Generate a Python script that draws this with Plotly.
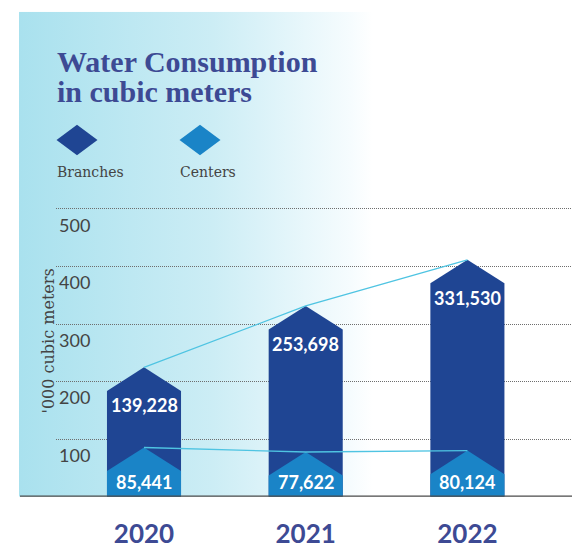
import base64

import plotly.graph_objects as go

W, H = 572, 549

years = ["2020", "2021", "2022"]
branches = [139.228, 253.698, 331.530]  # '000 cubic meters
centers = [85.441, 77.622, 80.124]
branch_labels = ["139,228", "253,698", "331,530"]
center_labels = ["85,441", "77,622", "80,124"]
y_ticks = [100, 200, 300, 400, 500]

COLORS = {
    "branches": "#1f4593",
    "centers": "#1a84c7",
    "trend": "#4fc4e2",
    "title": "#3d4a94",
    "text": "#444444",
    "grid": "#6e6e6e",
    "base": "#4a4a4a",
}

HALF = 0.229   # bar half width in category units
SHOULDER = 41  # height of pointed top in data units


def px_x(p):
    return p / W


def px_y(p):
    return 1 - p / H


def pentagon(i, top):
    xs = [i - HALF, i - HALF, i, i + HALF, i + HALF, i - HALF]
    ys = [0, top - SHOULDER, top, top - SHOULDER, 0, 0]
    return xs, ys


def diamond_path(cx, cy, w, h):
    return (f"M {px_x(cx - w / 2)} {px_y(cy)} L {px_x(cx)} {px_y(cy - h / 2)} "
            f"L {px_x(cx + w / 2)} {px_y(cy)} L {px_x(cx)} {px_y(cy + h / 2)} Z")


totals = [b + c for b, c in zip(branches, centers)]
xi = list(range(len(years)))

fig = go.Figure()
for i, t in zip(xi, totals):
    xs, ys = pentagon(i, t)
    fig.add_trace(go.Scatter(x=xs, y=ys, fill="toself", mode="lines",
                             fillcolor=COLORS["branches"], line=dict(width=0),
                             hoverinfo="skip", showlegend=False))
for i, c in zip(xi, centers):
    xs, ys = pentagon(i, c)
    fig.add_trace(go.Scatter(x=xs, y=ys, fill="toself", mode="lines",
                             fillcolor=COLORS["centers"], line=dict(width=0),
                             hoverinfo="skip", showlegend=False))

# trend lines joining the peaks
fig.add_trace(go.Scatter(x=xi, y=totals, mode="lines",
                         line=dict(color=COLORS["trend"], width=1.3),
                         hoverinfo="skip", showlegend=False))
fig.add_trace(go.Scatter(x=xi, y=centers, mode="lines",
                         line=dict(color=COLORS["trend"], width=1.3),
                         hoverinfo="skip", showlegend=False))

val_font = dict(family="Lato", size=18, color="white", weight="bold")
annotations = []
for i, t, lab in zip(xi, totals, branch_labels):
    annotations.append(dict(x=i, y=t, xref="x", yref="y", text=lab, showarrow=False,
                            yshift=-38, font=val_font))
for i, lab in zip(xi, center_labels):
    annotations.append(dict(x=i, y=0, xref="x", yref="y", text=lab, showarrow=False,
                            yshift=15, font=val_font))

# title + legend
annotations += [
    dict(x=px_x(55), y=px_y(44), xref="paper", yref="paper", xanchor="left", yanchor="top",
         text="<b>Water Consumption</b>", showarrow=False,
         font=dict(family="Liberation Serif", size=30, color=COLORS["title"])),
    dict(x=px_x(55), y=px_y(74), xref="paper", yref="paper", xanchor="left", yanchor="top",
         text="<b>in cubic meters</b>", showarrow=False,
         font=dict(family="Liberation Serif", size=30, color=COLORS["title"])),
    dict(x=px_x(55), y=px_y(175), xref="paper", yref="paper", xanchor="left", yanchor="middle",
         text="Branches", showarrow=False,
         font=dict(family="DejaVu Serif", size=14, color=COLORS["text"])),
    dict(x=px_x(178), y=px_y(175), xref="paper", yref="paper", xanchor="left", yanchor="middle",
         text="Centers", showarrow=False,
         font=dict(family="DejaVu Serif", size=14, color=COLORS["text"])),
    dict(x=px_x(37), y=px_y(346), xref="paper", yref="paper", textangle=-90,
         text="'000 cubic meters", showarrow=False,
         font=dict(family="DejaVu Serif", size=16, color=COLORS["text"])),
]

shapes = [
    dict(type="path", xref="paper", yref="paper", path=diamond_path(77, 142, 41, 31),
         fillcolor=COLORS["branches"], line=dict(width=0)),
    dict(type="path", xref="paper", yref="paper", path=diamond_path(200, 142, 41, 31),
         fillcolor=COLORS["centers"], line=dict(width=0)),
    dict(type="line", xref="paper", yref="y", x0=px_x(20), x1=1, y0=0, y1=0,
         line=dict(color=COLORS["base"], width=2.5)),
]

svg = (
    '<svg xmlns="http://www.w3.org/2000/svg" width="553" height="492" preserveAspectRatio="none">'
    '<defs><linearGradient id="g" x1="0" y1="0" x2="1" y2="0">'
    '<stop offset="0" stop-color="#a9e1ee"/>'
    '<stop offset="0.35" stop-color="#ccedf5"/>'
    '<stop offset="0.6" stop-color="#f6fcfe"/>'
    '<stop offset="0.64" stop-color="#ffffff"/>'
    '<stop offset="1" stop-color="#ffffff"/>'
    '</linearGradient></defs>'
    '<rect width="553" height="492" fill="url(#g)"/></svg>'
)
bg_src = "data:image/svg+xml;base64," + base64.b64encode(svg.encode()).decode()

x_lo = (56 - 144) / 161.7
x_hi = (572 - 144) / 161.7
y_top = 505  # a little headroom so the 500 gridline is drawn
base_px = 504  # baseline position in pixels from top
scale = 0.584  # pixels per data unit

fig.update_layout(
    width=W,
    height=H,
    margin=dict(l=0, r=0, t=0, b=0),
    paper_bgcolor="white",
    plot_bgcolor="rgba(0,0,0,0)",
    annotations=annotations,
    shapes=shapes,
    images=[dict(source=bg_src, xref="paper", yref="paper", x=px_x(19), y=px_y(12),
                 sizex=(W - 19) / W, sizey=(base_px - 12) / H, sizing="stretch",
                 xanchor="left", yanchor="top", layer="below")],
    xaxis=dict(domain=[px_x(56), 1], range=[x_lo, x_hi], tickvals=xi, ticktext=years,
               showgrid=False, zeroline=False, showline=False,
               ticks="outside", ticklen=14, tickcolor="rgba(0,0,0,0)",
               tickfont=dict(family="Lato", size=26, color=COLORS["title"], weight="bold")),
    yaxis=dict(domain=[1 - base_px / H, 1 - (base_px - scale * y_top) / H], range=[0, y_top],
               tickvals=y_ticks,
               showgrid=True, gridcolor=COLORS["grid"], griddash="1px,1px", gridwidth=1,
               zeroline=False, showline=False, ticklabelposition="inside bottom",
               ticklabelshift=4,
               tickfont=dict(family="Lato", size=18, color=COLORS["text"])),
)

fig.write_html("out.html", config={"displayModeBar": False},
               post_script="document.body.style.margin='0';")
